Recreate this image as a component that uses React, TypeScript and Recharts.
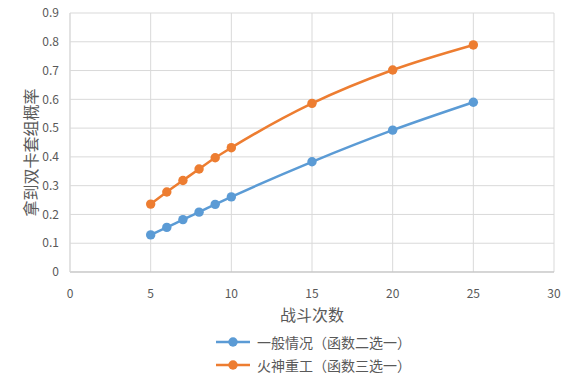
import React from "react";
import {
  LineChart,
  Line,
  XAxis,
  YAxis,
  CartesianGrid,
  Legend,
} from "recharts";

// 战斗次数
const battles = [5, 6, 7, 8, 9, 10, 15, 20, 25];
// 一般情况（函数二选一）
const normalRate = [0.129, 0.155, 0.182, 0.208, 0.235, 0.261, 0.383, 0.493, 0.59];
// 火神重工（函数三选一）
const vulcanRate = [0.236, 0.278, 0.318, 0.358, 0.397, 0.432, 0.586, 0.702, 0.789];

const xTicks = [0, 5, 10, 15, 20, 25, 30];
const yTicks = [0, 0.1, 0.2, 0.3, 0.4, 0.5, 0.6, 0.7, 0.8, 0.9];

const SERIES = [
  { key: "normal", name: "一般情况（函数二选一）", color: "#5B9BD5" },
  { key: "vulcan", name: "火神重工（函数三选一）", color: "#ED7D31" },
];

const data = battles.map((b, i) => ({
  battles: b,
  normal: normalRate[i],
  vulcan: vulcanRate[i],
}));

const FONT = '"Noto Sans CJK SC", "Noto Sans", sans-serif';

const LegendBox = () => (
  <div style={{ fontFamily: FONT, fontSize: 14, color: "#595959" }}>
    {SERIES.map((s) => (
      <div
        key={s.key}
        style={{ display: "flex", alignItems: "center", height: 23 }}
      >
        <svg width={36} height={12}>
          <line x1={0} y1={6} x2={34} y2={6} stroke={s.color} strokeWidth={2.5} />
          <circle cx={17} cy={6} r={4.7} fill={s.color} />
        </svg>
        <span style={{ marginLeft: 5 }}>{s.name}</span>
      </div>
    ))}
  </div>
);

export default function App() {
  return (
    <div
      style={{
        position: "absolute",
        left: 0,
        top: 0,
        width: 588,
        height: 381,
        background: "#fff",
        fontFamily: FONT,
      }}
    >
      <LineChart
        width={588}
        height={381}
        data={data}
        margin={{ top: 13, right: 34, left: 0, bottom: 0 }}
      >
        <CartesianGrid stroke="#d9d9d9" strokeWidth={1} />
        <XAxis
          dataKey="battles"
          type="number"
          domain={[0, 30]}
          ticks={xTicks}
          height={109}
          tickSize={0}
          tickMargin={17}
          axisLine={{ stroke: "#bfbfbf" }}
          tick={{ fill: "#595959", fontSize: 12, fontFamily: FONT }}
          label={{
            value: "战斗次数",
            position: "insideTop",
            offset: 38,
            fill: "#595959",
            fontSize: 16,
            fontFamily: FONT,
          }}
        />
        <YAxis
          type="number"
          domain={[0, 0.9]}
          ticks={yTicks}
          width={70}
          tickSize={0}
          tickMargin={11}
          axisLine={{ stroke: "#d9d9d9" }}
          tick={{ fill: "#595959", fontSize: 12, fontFamily: FONT }}
          label={{
            value: "拿到双卡套组概率",
            angle: -90,
            position: "insideLeft",
            offset: 31,
            dy: 10,
            fill: "#595959",
            fontSize: 16,
            fontFamily: FONT,
            style: { textAnchor: "middle" },
          }}
        />
        {SERIES.map((s) => (
          <Line
            key={s.key}
            dataKey={s.key}
            name={s.name}
            type="monotone"
            stroke={s.color}
            strokeWidth={2.5}
            dot={{ r: 4.7, fill: s.color, stroke: s.color, strokeWidth: 0 }}
            isAnimationActive={false}
          />
        ))}
        <Legend
          layout="vertical"
          align="center"
          verticalAlign="middle"
          content={() => <LegendBox />}
          wrapperStyle={{ top: 330, left: 216, width: 220 }}
        />
      </LineChart>
    </div>
  );
}
